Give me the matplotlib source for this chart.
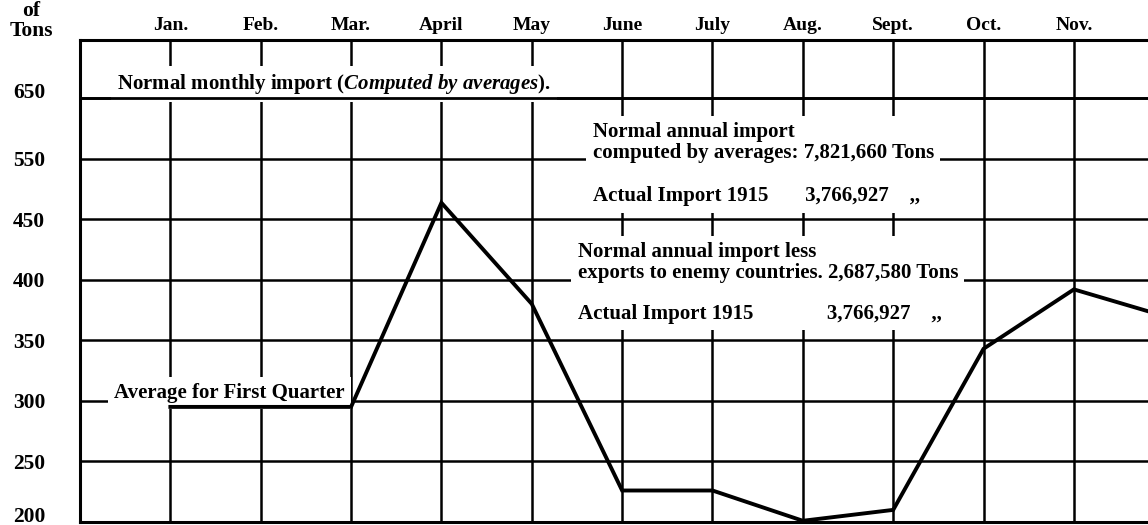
import numpy as np
import matplotlib
matplotlib.use('Agg')
import matplotlib.pyplot as plt
import matplotlib as mpl
from matplotlib import ticker

mpl.rcParams.update({'font.family': 'Liberation Serif', 'font.weight': 'bold', 'font.size': 15,
                     'mathtext.fontset': 'custom',
                     'mathtext.it': 'Liberation Serif:italic:bold',
                     'mathtext.rm': 'Liberation Serif:bold'})

months = ['Jan.', 'Feb.', 'Mar.', 'April', 'May', 'June', 'July', 'Aug.', 'Sept.', 'Oct.', 'Nov.', 'Dec.']
imports_1915 = [295, 295, 295, 477, 380, 226, 226, 201, 210, 343, 392, 370]   # thousands of tons
y_levels = [200, 250, 300, 350, 400, 450, 550, 650]
normal_monthly = 650
n_shown = 11   # the sheet is cut off before Dec.

# the sheet is ruled evenly although the labelled steps are not even
scale_vals = y_levels + [750]
scale_pos = np.arange(len(scale_vals))


def fwd(v):
    return np.interp(v, scale_vals, scale_pos)


def inv(p):
    return np.interp(p, scale_pos, scale_vals)


W, H = 1148, 525
fig = plt.figure(figsize=(W/100, H/100), dpi=100)
ax = fig.add_axes([80/W, 3/H, 1 - 80/W, 482/H])
ax.set_yscale('function', functions=(fwd, inv))

x = np.arange(len(months))
ax.plot(x, imports_1915, color='black', lw=2.8, solid_joinstyle='miter', zorder=5)
ax.axhline(normal_monthly, color='black', lw=2.0, zorder=4)

ax.set_xlim(-1.0, 10.82)
ax.set_ylim(200, inv(7.957))
ax.set_xticks(x[:n_shown])
ax.set_xticklabels(months[:n_shown], fontsize=14)
ax.set_yticks(y_levels)
ax.set_yticklabels([str(v) for v in y_levels], fontsize=15.5)
ax.yaxis.set_minor_locator(ticker.NullLocator())
ax.xaxis.tick_top()
ax.tick_params(length=0)
ax.tick_params(axis='x', pad=4)
ax.tick_params(axis='y', pad=25)
lab = ax.get_yticklabels()
lab[0].set_va('baseline')    # bottom and top figures sit a little high on the sheet
lab[-1].set_va('baseline')
ax.grid(True, color='black', lw=1.8)
for s in ['top', 'left', 'bottom']:
    ax.spines[s].set_linewidth(2.2)
ax.spines['right'].set_visible(False)

fig.text(31/W, 1 - 41/H, 'of\nTons', ha='center', va='bottom', linespacing=1.0, fontsize=15.5)

trans = ax.get_xaxis_transform()
box = dict(boxstyle='square,pad=0.3', fc='white', ec='none')

ax.text(-0.587, 0.9087, r'Normal monthly import ($\mathit{Computed\ by\ averages}$).',
        transform=trans, ha='left', va='center', bbox=box, zorder=3)

ax.text(4.673, 0.7427,
        'Normal annual import\ncomputed by averages: 7,821,660 Tons\n\n'
        'Actual Import 1915' + ' ' * 7 + '3,766,927' + ' ' * 4 + ',,',
        transform=trans, ha='left', va='center', bbox=box, zorder=3, linespacing=1.1)

ax.text(4.507, 0.4959,
        'Normal annual import less\nexports to enemy countries. 2,687,580 Tons\n\n'
        'Actual Import 1915' + ' ' * 14 + '3,766,927' + ' ' * 4 + ',,',
        transform=trans, ha='left', va='center', bbox=box, zorder=3, linespacing=1.05)

ax.text(-0.620, 0.2676, 'Average for First Quarter', transform=trans,
        ha='left', va='center', bbox=box, zorder=3)

fig.savefig('out.png', dpi=100, facecolor='white')
